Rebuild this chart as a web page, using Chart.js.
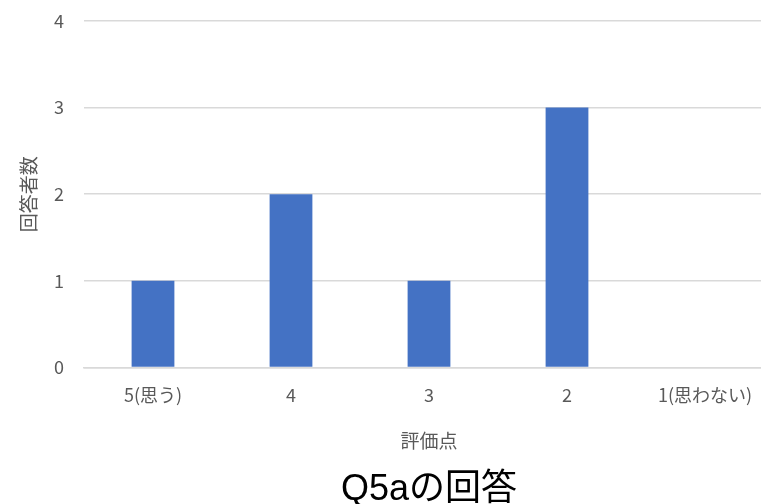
<!DOCTYPE html>
<html>
<head>
    <meta charset="utf-8">
    <title>Q5aの回答</title>
    <script src="https://cdn.jsdelivr.net/npm/chart.js"></script>
    <style>
        body { margin: 0; background: #fff; overflow: hidden; }
    </style>
</head>
<body>
<!-- o gráfico passa um pouco da janela à direita, como no original -->
<canvas id="barraChart" width="774" height="504"></canvas>

<script>
    // dados do gráfico
    const categorias = ['5(思う)', '4', '3', '2', '1(思わない)'];
    const respostas = [1, 2, 1, 3, 0];
    const ticksY = [0, 1, 2, 3, 4];

    const fonteJP = "'Noto Sans CJK JP', 'Noto Sans', sans-serif";

    document.addEventListener("DOMContentLoaded", function () {
        const ctx = document.getElementById('barraChart').getContext('2d');

        const data = {
            labels: categorias,
            datasets: [{
                label: '回答者数',
                data: respostas,
                backgroundColor: '#4472C4',
                borderWidth: 0,
                barPercentage: 0.31,
                categoryPercentage: 1.0
            }]
        };

        const config = {
            type: 'bar',
            data: data,
            options: {
                responsive: false,
                animation: false,
                layout: {
                    padding: { left: 17, right: 0, top: 0, bottom: -8 }
                },
                plugins: {
                    legend: { display: false },
                    tooltip: { enabled: false },
                    title: {
                        display: true,
                        text: 'Q5aの回答',
                        position: 'bottom',
                        fullSize: false,
                        color: '#000',
                        font: { family: "'Liberation Sans', 'Noto Sans CJK JP', sans-serif", size: 36, weight: 'normal' },
                        padding: { top: 17, bottom: 0 }
                    }
                },
                scales: {
                    x: {
                        afterFit: function (scale) {
                            scale.paddingRight = 0;
                            scale.paddingLeft = 0;
                        },
                        grid: { display: false, drawTicks: false },
                        border: { color: '#d9d9d9', width: 1.5 },
                        ticks: {
                            color: '#595959',
                            font: { family: fonteJP, size: 18 },
                            maxRotation: 0,
                            padding: 17
                        },
                        title: {
                            display: true,
                            text: '評価点',
                            color: '#595959',
                            font: { family: fonteJP, size: 19 },
                            padding: { top: 6, bottom: 0 }
                        }
                    },
                    y: {
                        min: 0,
                        max: 4,
                        afterBuildTicks: function (scale) {
                            scale.ticks = ticksY.map(v => ({ value: v }));
                        },
                        afterFit: function (scale) {
                            scale.width = 67;
                            scale.paddingTop = 21;
                        },
                        grid: { color: '#d9d9d9', lineWidth: 1.5, drawTicks: false },
                        border: { display: false },
                        ticks: {
                            color: '#595959',
                            font: { family: fonteJP, size: 18 },
                            padding: 20
                        },
                        title: {
                            display: true,
                            text: '回答者数',
                            color: '#595959',
                            font: { family: fonteJP, size: 19 },
                            padding: 0
                        }
                    }
                }
            }
        };

        new Chart(ctx, config);
    });
</script>
</body>
</html>
